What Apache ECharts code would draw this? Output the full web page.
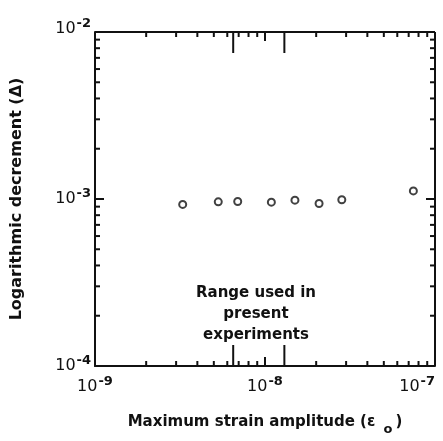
<!DOCTYPE html>
<html><head><meta charset="utf-8">
<script src="https://cdn.jsdelivr.net/npm/echarts@6/dist/echarts.min.js"></script>
<style>html,body{margin:0;padding:0;background:#fff}#c{width:443px;height:441px}</style>
</head><body><div id="c"></div>
<script>
// Data
const strainAmplitude = [3.28e-9, 5.31e-9, 6.91e-9, 1.09e-8, 1.50e-8, 2.08e-8, 2.83e-8, 7.46e-8];
const logDecrement   = [0.928e-3, 0.962e-3, 0.966e-3, 0.957e-3, 0.984e-3, 0.940e-3, 0.989e-3, 1.118e-3];
// Axis structure
const xMajorTicks = [1e-9, 1e-8, 1e-7];
const xMinorTicks = [2e-9,3e-9,4e-9,5e-9,6e-9,7e-9,8e-9,9e-9,2e-8,3e-8,4e-8,5e-8,6e-8,7e-8,8e-8,9e-8];
const yMajorTicks = [1e-4, 1e-3, 1e-2];
const yMinorTicks = [2e-4,3e-4,4e-4,5e-4,6e-4,7e-4,8e-4,9e-4,2e-3,3e-3,4e-3,5e-3,6e-3,7e-3,8e-3,9e-3];
const rangeMarkers = [6.5e-9, 1.3e-8];
const rangeLabel = ['Range used in', 'present', 'experiments'];

const FONT = 'DejaVu Sans';
const chart = echarts.init(document.getElementById('c'), null, {renderer: 'canvas'});

function expLabel(v) {
  const e = Math.round(Math.log10(v));
  return '{b|10}{s|' + e + '}';
}
function expLabelY(v) {
  const e = Math.round(Math.log10(v));
  if (e === -2) return '{bt|10}{st|' + e + '}';
  return '{b|10}{s|' + e + '}';
}
const labelRich = {
  b: {fontFamily: FONT, fontSize: 16, color: '#111'},
  s: {fontFamily: FONT, fontSize: 13, color: '#111', fontWeight: 'bold', padding: [0, 0, 10, 1]},
  bt: {fontFamily: FONT, fontSize: 16, color: '#111', padding: [0, 0, 6, 0]},
  st: {fontFamily: FONT, fontSize: 13, color: '#111', fontWeight: 'bold', padding: [0, 0, 16, 1]}
};

const X0 = 1e-9, X1 = 1e-7, Y0 = 1e-4, Y1 = 1e-2;

chart.setOption({
  animation: false,
  backgroundColor: '#fff',
  grid: {left: 95, right: 8, top: 32, bottom: 72},
  xAxis: {
    type: 'log', logBase: 10, min: X0, max: X1,
    axisLine: {lineStyle: {color: '#111', width: 2}},
    axisTick: {show: false}, splitLine: {show: false}, minorTick: {show: false},
    axisLabel: {formatter: expLabel, rich: labelRich, margin: 9, alignMaxLabel: 'right'},
    name: '{t|Maximum strain amplitude (ε }{sub|o}{t|)}',
    nameLocation: 'middle', nameGap: 43,
    nameTextStyle: {rich: {
      t: {fontFamily: FONT, fontSize: 15, fontWeight: 'bold', color: '#111'},
      sub: {fontFamily: FONT, fontSize: 13, fontWeight: 'bold', color: '#111', padding: [14, 3, 0, 3]}
    }}
  },
  yAxis: {
    type: 'log', logBase: 10, min: Y0, max: Y1,
    axisLine: {lineStyle: {color: '#111', width: 2}},
    axisTick: {show: false}, splitLine: {show: false}, minorTick: {show: false},
    axisLabel: {formatter: expLabelY, rich: labelRich, margin: 4},
    name: 'Logarithmic decrement (Δ)',
    nameLocation: 'middle', nameGap: 70, nameRotate: 90,
    nameTextStyle: {fontFamily: FONT, fontSize: 16, fontWeight: 'bold', color: '#111'}
  },
  graphic: [{
    type: 'text', left: 256 - 80, top: 283,
    style: {text: rangeLabel.join('\n'), font: 'bold 15px "' + FONT + '"', fill: '#111',
            textAlign: 'center', lineHeight: 21, width: 160, x: 80}
  }],
  series: [
    {
      type: 'custom', silent: true, z: 3,
      data: [[1e-8, 1e-3]],
      renderItem: function (params, api) {
        const ch = [];
        const st = {stroke: '#111', lineWidth: 2};
        function line(a, b) { ch.push({type: 'line', shape: {x1: a[0], y1: a[1], x2: b[0], y2: b[1]}, style: st}); }
        function xt(v, len) {
          const pb = api.coord([v, Y0]), pt = api.coord([v, Y1]);
          line(pb, [pb[0], pb[1] - len]);
          line(pt, [pt[0], pt[1] + len]);
        }
        function yt(v, len) {
          const pl = api.coord([X0, v]), pr = api.coord([X1, v]);
          line(pl, [pl[0] + len, pl[1]]);
          line(pr, [pr[0] - len, pr[1]]);
        }
        xMajorTicks.forEach(v => xt(v, 9));
        xMinorTicks.forEach(v => xt(v, 5));
        yMajorTicks.forEach(v => yt(v, 9));
        yMinorTicks.forEach(v => yt(v, 5));
        rangeMarkers.forEach(v => xt(v, 21));
        const tl = api.coord([X0, Y1]), tr = api.coord([X1, Y1]), br = api.coord([X1, Y0]);
        ch.push({type: 'line', shape: {x1: tl[0], y1: tl[1], x2: tr[0], y2: tr[1]}, style: {stroke: '#111', lineWidth: 2}});
        ch.push({type: 'line', shape: {x1: tr[0], y1: tr[1], x2: br[0], y2: br[1]}, style: {stroke: '#111', lineWidth: 2}});
        return {type: 'group', children: ch};
      }
    },
    {
      type: 'scatter', z: 4,
      data: strainAmplitude.map((x, i) => [x, logDecrement[i]]),
      symbol: 'circle', symbolSize: 7,
      itemStyle: {color: '#fff', borderColor: '#111', borderWidth: 2}
    }
  ]
});
</script></body></html>
